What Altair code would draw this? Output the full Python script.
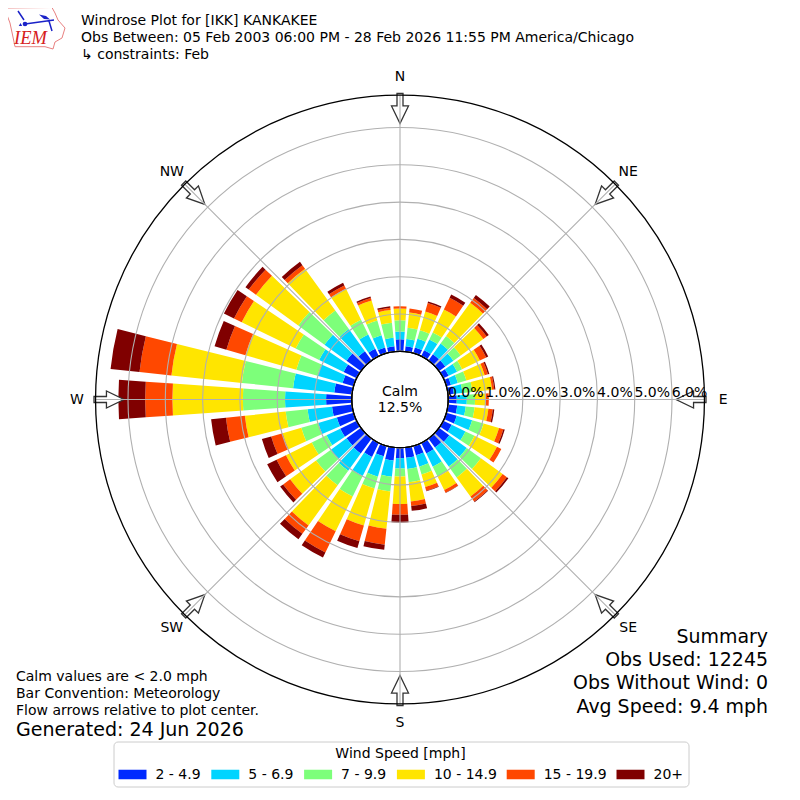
import math
import altair as alt
import pandas as pd

directions = list(range(0, 360, 10))
speed_labels = ["2 - 4.9", "5 - 6.9", "7 - 9.9", "10 - 14.9", "15 - 19.9", "20+"]
speed_colors = ["#0029ff", "#00d4ff", "#7dff7a", "#ffe500", "#ff4800", "#800000"]

s_2_5 = [.32,.14,.16,.18,.21,.21,.16,.13,.16,.23,.25,.29,.25,.34,.30,.32,.26,.28,
         .28,.35,.29,.42,.50,.48,.49,.47,.54,.69,.48,.31,.39,.48,.31,.22,.16,.14]
s_5_7 = [.21,.20,.24,.32,.35,.27,.25,.19,.23,.27,.23,.43,.41,.58,.63,.39,.32,.30,
         .28,.44,.57,.57,.57,.53,.41,.52,.66,1.10,1.11,.70,.73,.73,.73,.43,.34,.23]
s_7_10 = [.30,.30,.24,.21,.25,.24,.15,.24,.27,.22,.24,.32,.27,.47,.36,.30,.22,.36,
          .21,.40,.33,.61,.48,.48,.44,.47,.59,1.13,1.38,.59,.70,.87,.62,.44,.41,.41]
s_10_15 = [.32,.41,.52,.68,1.10,.75,.53,.51,.53,.29,.37,.43,.67,.72,.63,.40,.35,.52,
           .74,1.00,1.03,1.04,1.33,.86,.77,.52,1.10,1.89,1.90,1.42,1.61,1.40,1.38,.92,.56,.34]
s_15_20 = [.06,.11,.24,.35,.16,.11,.19,.09,.06,.08,.12,.12,.13,.14,.17,.08,.10,.12,
           .29,.43,.44,.63,.28,.23,.28,.32,.51,.73,.86,.53,.23,.24,.12,.10,.07,.06]
s_20 = [.00,.00,.04,.10,.10,.07,.06,.04,.03,.00,.04,.04,.00,.05,.02,.01,.02,.13,
        .21,.14,.19,.15,.18,.10,.28,.26,.40,.72,.78,.33,.30,.11,.11,.08,.04,.04]
speed_series = [s_2_5, s_5_7, s_7_10, s_10_15, s_15_20, s_20]

ring_values = [1, 2, 3, 4, 5, 6]
ring_labels = ["0.0%", "1.0%", "2.0%", "3.0%", "4.0%", "5.0%", "6.0%"]
compass_names = ["N", "NE", "E", "SE", "S", "SW", "W", "NW"]
compass_dirs = [0, 45, 90, 135, 180, 225, 270, 315]

title_lines = [
    "Windrose Plot for [IKK] KANKAKEE",
    "Obs Between: 05 Feb 2003 06:00 PM - 28 Feb 2026 11:55 PM America/Chicago",
    " \u21b3 constraints: Feb",
]
summary_lines = ["Summary", "Obs Used: 12245", "Obs Without Wind: 0", "Avg Speed: 9.4 mph"]
note_lines = ["Calm values are < 2.0 mph", "Bar Convention: Meteorology", "Flow arrows relative to plot center."]

FONT = "DejaVu Sans"
W = 784
CX, CY = 392, 391.5
R0, PX_PER_PCT = 48.2, 37.3
OUTER = 6.87
BAR_HALF = 4.0

r_scale = alt.Scale(type="linear", domain=[0, OUTER], range=[R0, R0 + OUTER * PX_PER_PCT])
t_scale = alt.Scale(type="linear", domain=[0, 360], range=[0, 2 * math.pi])

rows = []
for i, d in enumerate(directions):
    low = 0.0
    for k, lab in enumerate(speed_labels):
        v = speed_series[k][i]
        if v > 0:
            rows.append({"t0": d - BAR_HALF, "t1": d + BAR_HALF, "r0": low, "r1": low + v, "speed": lab})
        low += v
bars_df = pd.DataFrame(rows)

bars = alt.Chart(bars_df).mark_arc(stroke=None).encode(
    x=alt.value(CX), y=alt.value(CY),
    theta=alt.Theta("t0:Q", scale=t_scale), theta2="t1:Q",
    radius=alt.Radius("r1:Q", scale=r_scale), radius2="r0:Q",
    color=alt.Color("speed:N", sort=speed_labels,
        scale=alt.Scale(domain=speed_labels, range=speed_colors),
        legend=alt.Legend(
            title="Wind Speed [mph]", orient="none", legendX=105.5, legendY=733.5,
            direction="horizontal", columns=6, columnPadding=9.8,
            symbolType="M-1,-0.34H1V0.34H-1Z", symbolSize=784, symbolStrokeWidth=0,
            labelOffset=9, titleFont=FONT, labelFont=FONT, titleFontSize=14, labelFontSize=14,
            titleFontWeight="normal", titleColor="#000", labelColor="#000",
            titleAnchor="middle", titlePadding=0, strokeColor="#cccccc", cornerRadius=4,
            fillColor="#ffffff", padding=5)),
)

def circle(values, color, width):
    df = pd.DataFrame({"t0": [0] * len(values), "t1": [360] * len(values), "r": values})
    return alt.Chart(df).mark_arc(fillOpacity=0, stroke=color, strokeWidth=width).encode(
        x=alt.value(CX), y=alt.value(CY),
        theta=alt.Theta("t0:Q", scale=t_scale), theta2="t1:Q",
        radius=alt.Radius("r:Q", scale=r_scale))

rings = circle(ring_values, "#b0b0b0", 1.1)

spoke_df = pd.DataFrame({"t": compass_dirs, "r0": [0] * 8, "r1": [OUTER] * 8})
spokes = alt.Chart(spoke_df).mark_arc(stroke="#b0b0b0", strokeWidth=1.1, fillOpacity=0).encode(
    x=alt.value(CX), y=alt.value(CY),
    theta=alt.Theta("t:Q", scale=t_scale), theta2="t:Q",
    radius=alt.Radius("r1:Q", scale=r_scale), radius2="r0:Q")

ARROW = "M-0.2,-1L0.2,-1L0.2,-0.17L0.567,-0.17L0,1L-0.567,-0.17L-0.2,-0.17Z"
ARROW_R = 291
arrow_df = pd.DataFrame({
    "d": compass_dirs,
    "x": [CX + ARROW_R * math.sin(math.radians(d)) for d in compass_dirs],
    "y": [CY - ARROW_R * math.cos(math.radians(d)) for d in compass_dirs],
})
arrows = alt.Chart(arrow_df).mark_point(shape=ARROW, size=900, filled=True, fill="#ffffff", fillOpacity=1,
                                        stroke="#333333", strokeWidth=1.3, opacity=1).encode(
    x=alt.X("x:Q", scale=None, axis=None), y=alt.Y("y:Q", scale=None, axis=None),
    angle=alt.Angle("d:Q", scale=None))

inner = circle([0], "#000000", 1.2)
outer = circle([OUTER], "#000000", 1.3)

compass_df = pd.DataFrame({"name": compass_names, "t": compass_dirs, "r": [7.37, 7.36] * 4})
compass = alt.Chart(compass_df).mark_text(font=FONT, fontSize=14, color="#000", baseline="middle", align="center").encode(
    x=alt.value(CX), y=alt.value(CY + 0.5),
    theta=alt.Theta("t:Q", scale=t_scale),
    radius=alt.Radius("r:Q", scale=r_scale),
    text="name:N")

def note(text, x, y, size=14, align="left", color="#000", font=FONT, style="normal"):
    return alt.Chart(pd.DataFrame({"t": [text]})).mark_text(
        font=font, fontSize=size, align=align, baseline="middle", color=color, fontStyle=style
    ).encode(x=alt.value(x - 8), y=alt.value(y - 7), text="t:N")

tick_layers = [note(lab, 8 + CX + R0 + 17.5 + i * PX_PER_PCT, 391.5, align="center") for i, lab in enumerate(ring_labels)]

texts = [note(t, 81, y) for t, y in zip(title_lines, [20, 37, 54])]
texts += [note(t, 768, y, size=18.95, align="right") for t, y in zip(summary_lines, [636, 659, 682, 705.5])]
texts += [note(t, 16, y) for t, y in zip(note_lines, [676, 693, 710])]
texts += [note("Generated: 24 Jun 2026", 16, 729, size=19.05)]
texts += [note("Calm", 400, 391, align="center"), note("12.5%", 400, 407, align="center")]

def glyph(path, x, y, size, **kw):
    return alt.Chart(pd.DataFrame({"a": [1]})).mark_point(shape=path, size=size, opacity=1, **kw).encode(
        x=alt.value(x - 8), y=alt.value(y - 8))

IOWA = ("M-0.967,-0.667L0.533,-0.683L0.633,-0.5L0.733,-0.267L0.967,0L0.867,0.333L0.633,0.467L0.567,0.7"
        "L0.3,0.623L-0.7,0.623L-0.767,0.3L-0.867,-0.167L-0.967,-0.433Z")
WIND = "M-0.367,-0.133L0.6,-0.267M-0.6,-0.567L-0.4,-0.267M0.433,-0.233L0.533,0.1"
BARB = "M0.1,-0.45L0.333,-0.4L0.467,-0.283L0.267,-0.3Z"
logo = [
    glyph(IOWA, 36, 28, 3600, filled=False, stroke="#e88080", strokeWidth=1),
    glyph(WIND, 36, 28, 3600, filled=False, stroke="#1a22c8", strokeWidth=1.5),
    glyph(BARB, 36, 28, 3600, filled=True, fill="#1a22c8", strokeWidth=0),
    glyph("circle", 25, 24, 22, filled=True, fill="#1a22c8", strokeWidth=0),
    glyph("triangle-up", 20.5, 24.5, 12, filled=True, fill="#1a22c8", strokeWidth=0),
    note("IEM", 30.5, 36.5, size=18.5, align="center", color="#d62020", font="Liberation Serif", style="italic"),
]

chart = alt.layer(
    bars, rings, arrows, spokes, inner, outer, compass, *tick_layers, *texts, *logo
).properties(width=W, height=W, padding=0, background="#ffffff",
             autosize=alt.AutoSizeParams(type="none")).configure_view(stroke=None)

chart.save("out.html", embed_options={"renderer": "svg", "actions": False})
